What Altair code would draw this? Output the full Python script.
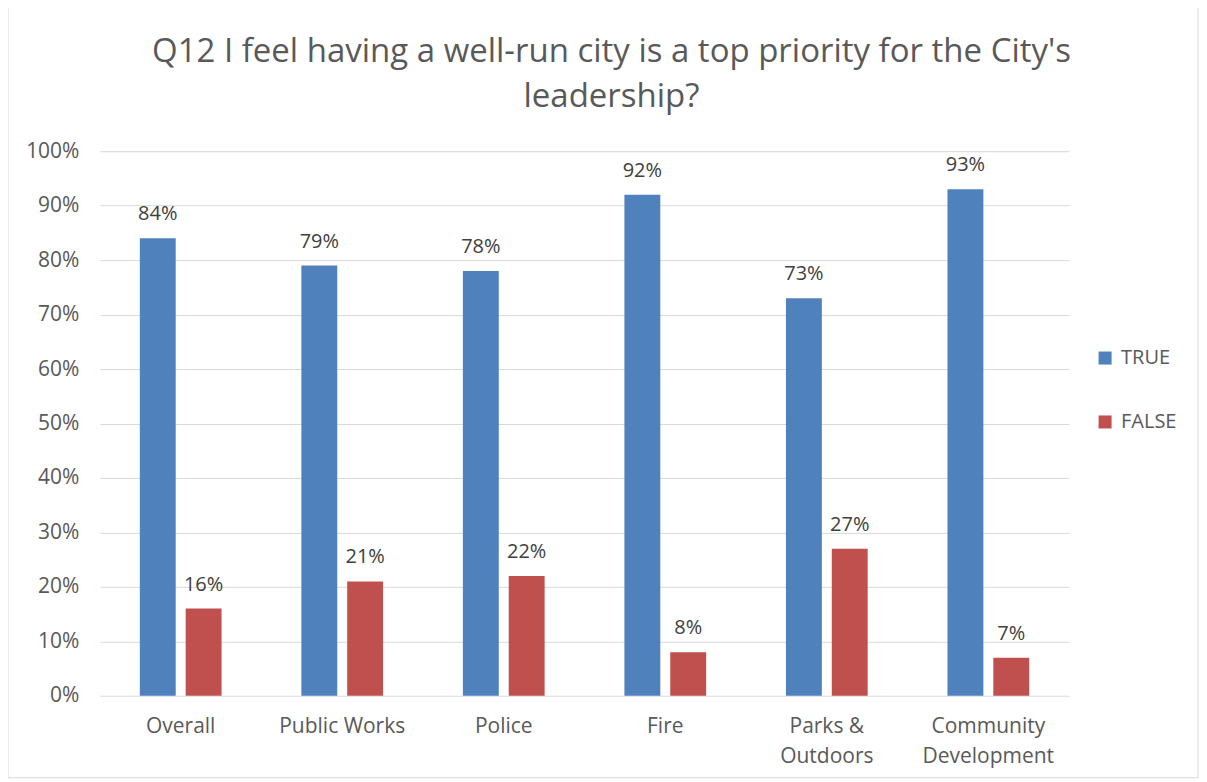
import altair as alt
import pandas as pd

categories = ["Overall", "Public Works", "Police", "Fire", "Parks & Outdoors", "Community Development"]
true_vals = [84, 79, 78, 92, 73, 93]
false_vals = [16, 21, 22, 8, 27, 7]
series = ["TRUE", "FALSE"]
colors = ["#4F81BD", "#C0504D"]
title_lines = ["Q12 I feel having a well-run city is a top priority for the City's", "leadership?"]

rows = []
for c, t, f in zip(categories, true_vals, false_vals):
    rows.append({"cat": c, "series": "TRUE", "val": t / 100})
    rows.append({"cat": c, "series": "FALSE", "val": f / 100})
df = pd.DataFrame(rows)
one = pd.DataFrame({"k": [0]})

FONT = "Open Sans"
W, H = 970, 545

label_expr = ("datum.label == 'Parks & Outdoors' ? ['Parks &', 'Outdoors'] : "
              "datum.label == 'Community Development' ? ['Community', 'Development'] : datum.label")

x = alt.X("cat:N", sort=categories, title=None,
          scale=alt.Scale(paddingInner=0.494, paddingOuter=0.247),
          axis=alt.Axis(labelAngle=0, labelExpr=label_expr, labelFontSize=21, labelFont=FONT,
                        labelColor="#595959", labelLineHeight=30, labelPadding=20,
                        ticks=False, domain=False, grid=False, labelBaseline="top"))
xoff = alt.XOffset("series:N", sort=series, scale=alt.Scale(paddingInner=0.217, paddingOuter=0))
y = alt.Y("val:Q", title=None,
          scale=alt.Scale(domain=[0, 1]),
          axis=alt.Axis(values=[i / 10 for i in range(11)], format=".0%", labelFontSize=21,
                        labelFont=FONT, labelColor="#595959", labelPadding=21,
                        ticks=False, domain=False, grid=True, gridColor="#D9D9D9", gridWidth=1))

bars = alt.Chart(df).mark_bar().encode(
    x=x, xOffset=xoff, y=y,
    color=alt.Color("series:N", sort=series,
                    scale=alt.Scale(domain=series, range=colors),
                    legend=alt.Legend(title=None, orient="none", legendX=996, legendY=197,
                                      symbolType="square", symbolSize=170, labelFontSize=20,
                                      labelFont=FONT, labelColor="#595959", rowPadding=44,
                                      labelOffset=6, symbolStrokeWidth=0)),
)

text = alt.Chart(df).mark_text(baseline="bottom", dy=-14, fontSize=20, font=FONT, color="#404040").encode(
    x=x, xOffset=xoff, y=y, text=alt.Text("val:Q", format=".0%")
)

frame = alt.Chart(one).mark_rect(fill=None, stroke="#D9D9D9", strokeWidth=1).encode(
    x=alt.value(-92), x2=alt.value(W + 129), y=alt.value(-146), y2=alt.value(H + 82)
)

title1 = alt.Chart(one).mark_text(fontSize=33, font=FONT, color="#595959", align="center",
                                  baseline="middle").encode(
    x=alt.value(512), y=alt.value(-99), text=alt.value(title_lines[0])
)
title2 = alt.Chart(one).mark_text(fontSize=33, font=FONT, color="#595959", align="center",
                                  baseline="middle").encode(
    x=alt.value(512), y=alt.value(-54), text=alt.value(title_lines[1])
)

chart = alt.layer(frame, bars, text, title1, title2).properties(
    width=W, height=H,
    autosize=alt.AutoSizeParams(type="none"),
    padding={"left": 92, "top": 143, "right": 130, "bottom": 85},
).configure_view(stroke=None)

chart.save("out.html", embed_options={"renderer": "svg", "actions": False})
